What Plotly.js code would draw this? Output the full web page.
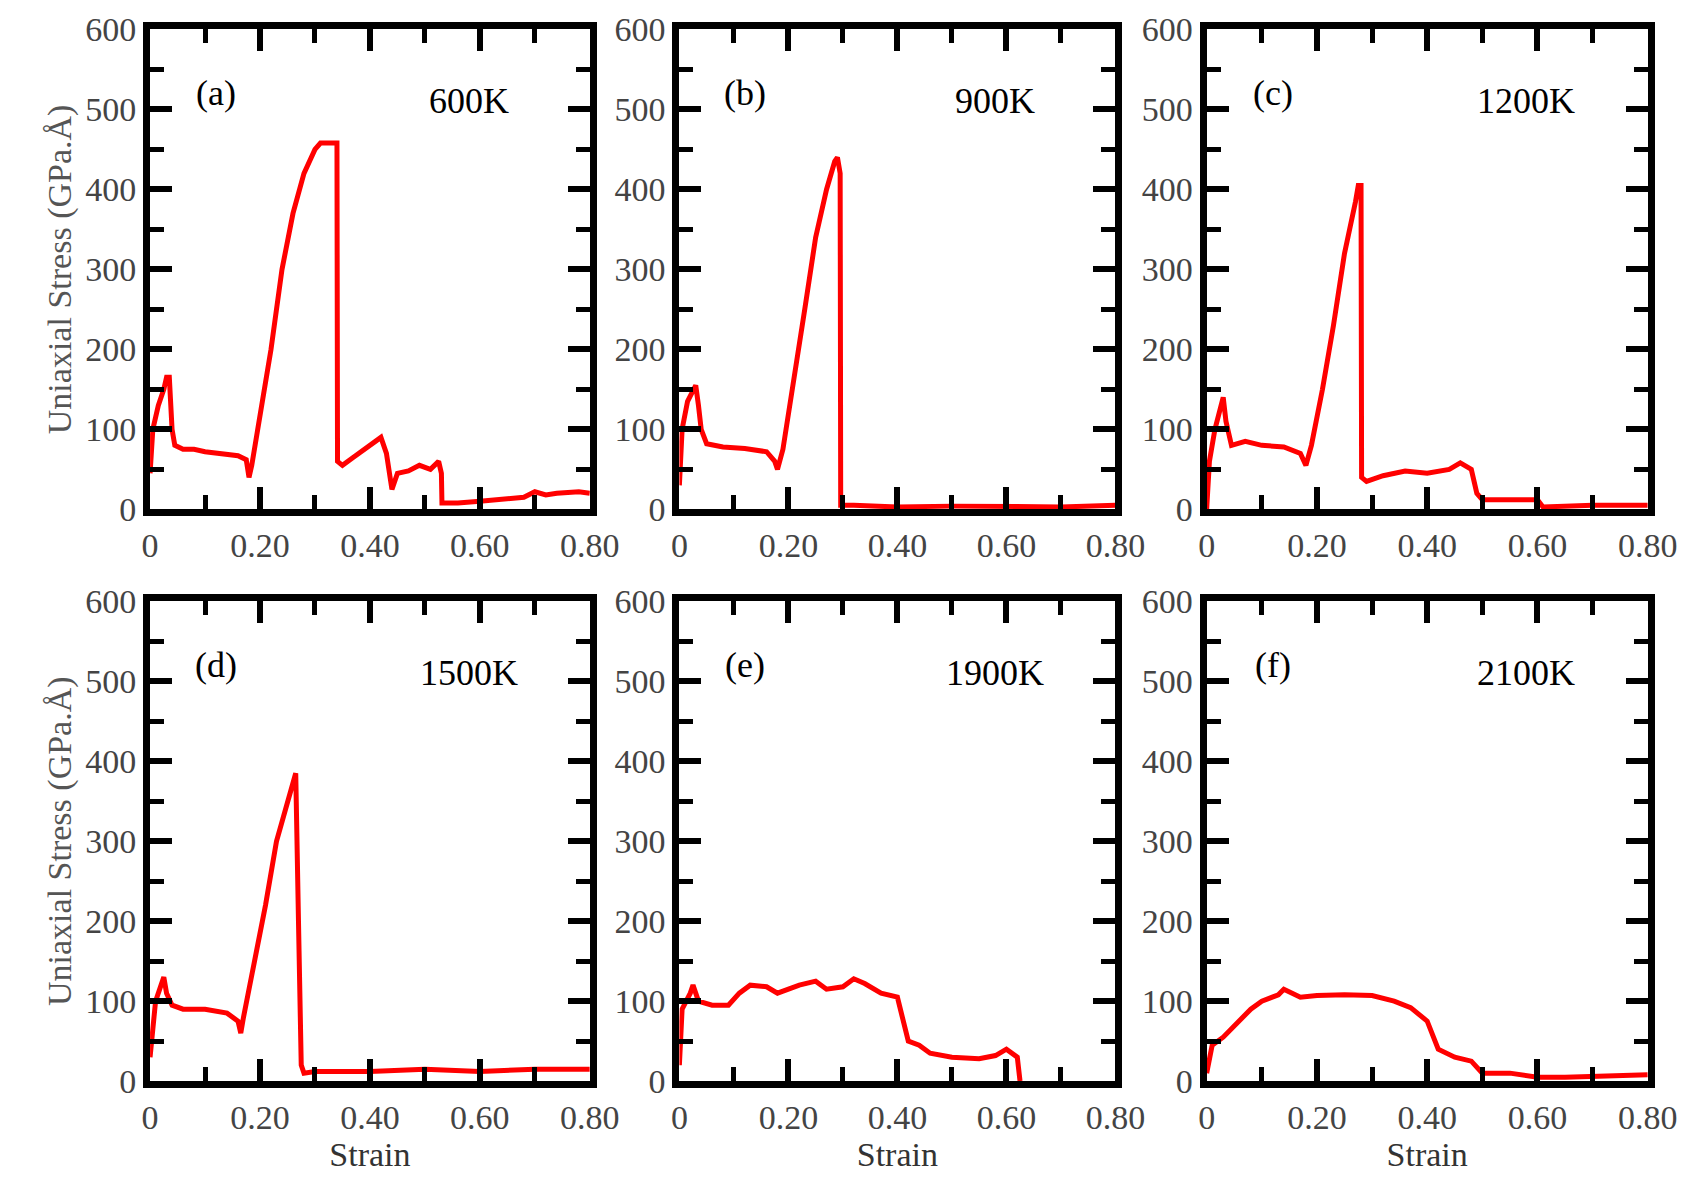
<!DOCTYPE html>
<html>
<head>
<meta charset="utf-8">
<script src="https://cdn.plot.ly/plotly-3.0.1.min.js"></script>
<style>body{margin:0;background:#fff}#chart{width:1690px;height:1179px}</style>
</head>
<body>
<div id="chart"></div>
<script>
// strain / stress per temperature
const xA = [0,0.005,0.015,0.025,0.03,0.035,0.04,0.045,0.06,0.08,0.1,0.12,0.14,0.16,0.175,0.18,0.185,0.2,0.22,0.24,0.26,0.28,0.3,0.31,0.33,0.34,0.341,0.35,0.37,0.39,0.41,0.42,0.43,0.44,0.45,0.47,0.49,0.51,0.525,0.53,0.531,0.56,0.6,0.64,0.68,0.7,0.72,0.74,0.78,0.8];
const yA = [45,100,130,150,165,165,100,80,75,75,72,70,68,67,62,40,55,120,200,300,370,420,450,458,458,458,60,55,65,75,85,90,70,25,45,48,55,50,60,45,8,8,10,12,15,22,18,20,22,20];
const xB = [0,0.005,0.015,0.03,0.035,0.04,0.05,0.08,0.12,0.16,0.175,0.18,0.19,0.21,0.23,0.25,0.27,0.285,0.29,0.295,0.296,0.32,0.4,0.5,0.6,0.7,0.8];
const yB = [30,100,135,155,130,100,82,78,76,72,60,50,75,160,250,340,400,435,440,420,5,5,3,4,3,3,5];
const xC = [0,0.005,0.015,0.03,0.035,0.045,0.07,0.1,0.14,0.17,0.18,0.19,0.21,0.23,0.25,0.26,0.27,0.275,0.28,0.281,0.29,0.32,0.36,0.4,0.44,0.46,0.48,0.49,0.5,0.6,0.61,0.7,0.8];
const yC = [0,60,100,140,110,80,85,80,78,70,55,80,150,230,320,350,385,405,405,40,35,42,48,45,50,58,50,20,12,12,3,5,5];
const xD = [0,0.01,0.02,0.025,0.03,0.04,0.06,0.1,0.14,0.16,0.165,0.17,0.19,0.21,0.23,0.25,0.26,0.265,0.27,0.275,0.28,0.3,0.4,0.5,0.6,0.7,0.8];
const yD = [30,100,120,130,110,95,90,90,85,75,60,80,150,220,300,350,370,385,200,20,10,12,12,15,12,15,15];
const xE = [0,0.005,0.02,0.025,0.035,0.06,0.09,0.11,0.13,0.16,0.18,0.22,0.25,0.27,0.3,0.32,0.34,0.37,0.4,0.41,0.42,0.44,0.46,0.5,0.55,0.58,0.6,0.62,0.625];
const yE = [20,90,110,120,100,95,95,110,120,118,110,120,125,115,118,128,122,110,105,80,50,45,35,30,28,32,40,30,0];
const xF = [0,0.01,0.03,0.06,0.08,0.1,0.13,0.14,0.17,0.2,0.25,0.3,0.34,0.37,0.4,0.42,0.45,0.48,0.5,0.55,0.6,0.65,0.7,0.8];
const yF = [10,45,55,75,90,100,108,115,105,107,108,107,100,92,75,40,30,25,10,10,5,5,6,8];

const panels = [[xA,yA,'(a)','600K'],[xB,yB,'(b)','900K'],[xC,yC,'(c)','1200K'],
                [xD,yD,'(d)','1500K'],[xE,yE,'(e)','1900K'],[xF,yF,'(f)','2100K']];

const xDom = [[0.0888,0.349],[0.402,0.660],[0.714,0.975]];
const yDom = [[0.568,0.975],[0.083,0.490]];
const serif = 'Liberation Serif';

const traces = [];
const layout = {
  width: 1690, height: 1179, margin: {l:0,r:0,t:0,b:0},
  paper_bgcolor: '#fff', plot_bgcolor: '#fff', showlegend: false,
  font: {family: serif, size: 34, color: '#444'},
  annotations: []
};

panels.forEach((p, i) => {
  const n = i === 0 ? '' : String(i + 1);
  const row = Math.floor(i / 3), col = i % 3;
  traces.push({x: p[0], y: p[1], xaxis: 'x' + n, yaxis: 'y' + n, type: 'scatter', mode: 'lines',
    line: {color: '#ff0000', width: 5}});
  const ax = {
    showline: true, mirror: 'allticks', linecolor: '#000', linewidth: 7, showgrid: false, zeroline: false,
    ticks: 'inside', ticklen: 22, tickwidth: 6, tickcolor: '#000',
    tickfont: {family: serif, size: 34, color: '#444'}
  };
  layout['xaxis' + n] = Object.assign({}, ax, {
    domain: xDom[col], anchor: 'y' + n, range: [0, 0.8],
    tickvals: [0,0.2,0.4,0.6,0.8], ticktext: ['0','0.20','0.40','0.60','0.80'],
    minor: {dtick: 0.1, tick0: 0, ticks: 'inside', ticklen: 14, tickwidth: 5, tickcolor: '#000'},
    title: row === 1 ? {text: 'Strain', font: {family: serif, size: 34, color: '#333'}, standoff: 8} : {text: ''}
  });
  layout['yaxis' + n] = Object.assign({}, ax, {
    domain: yDom[row], anchor: 'x' + n, range: [0, 600], dtick: 100,
    minor: {dtick: 50, ticks: 'inside', ticklen: 14, tickwidth: 5, tickcolor: '#000'},
    title: col === 0 ? {text: 'Uniaxial Stress (GPa.Å)', font: {family: serif, size: 34, color: '#555'}, standoff: 6} : {text: ''}
  });
  layout.annotations.push(
    {xref: 'x' + n, yref: 'y' + n, x: 0.12, y: 520, text: p[2], showarrow: false,
     font: {family: serif, size: 36, color: '#000'}},
    {xref: 'x' + n, yref: 'y' + n, x: 0.58, y: 510, text: p[3], showarrow: false,
     font: {family: serif, size: 36, color: '#000'}}
  );
});

Plotly.newPlot('chart', traces, layout, {displayModeBar: false});
</script>
</body>
</html>
